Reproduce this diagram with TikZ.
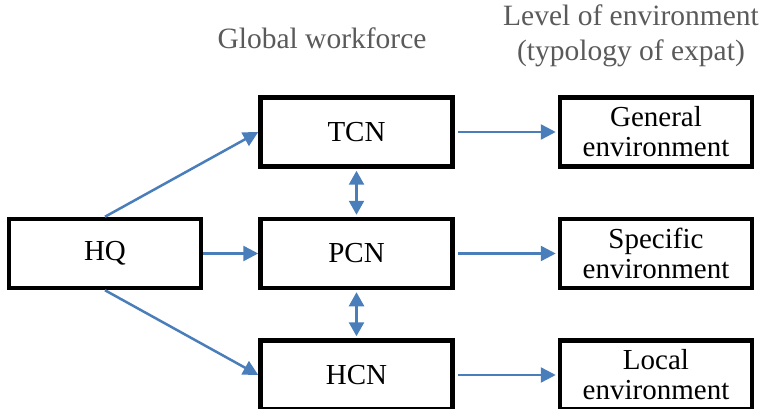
\documentclass[tikz,border=0pt]{standalone}
\usepackage{fontspec}
\setmainfont{Liberation Serif}
\usetikzlibrary{arrows.meta,positioning}
\definecolor{linkblue}{RGB}{74,126,187}
\definecolor{headgray}{RGB}{90,90,90}
\tikzset{
  unit box/.style={
    rectangle, draw=black, line width=4.5pt,
    minimum width=192pt, minimum height=69pt,
    inner sep=0pt, align=center,
    font=\fontsize{29}{30}\selectfont
  },
  head label/.style={
    text=headgray, align=center,
    font=\fontsize{29.5}{35}\selectfont
  },
  flow arrow/.style={-{Triangle[length=15pt,width=15pt]}, line width=2.5pt, linkblue},
  both arrow/.style={{Triangle[length=14pt,width=15pt]}-{Triangle[length=14pt,width=15pt]}, line width=2.5pt, linkblue}
}

\begin{document}
\begin{tikzpicture}[node distance=48pt]
    \useasboundingbox (0pt,0pt) rectangle (766pt,-409pt);
    \node[unit box] (hq) at (105pt,-253.5pt) {HQ};
    \node[unit box, right=55pt of hq] (pcn) {PCN};
    \node[unit box, above=of pcn] (tcn) {TCN};
    \node[unit box, below=of pcn] (hcn) {HCN};
    \node[unit box, right=103pt of tcn] (general) {General\\environment};
    \node[unit box, right=103pt of pcn] (specific) {Specific\\environment};
    \node[unit box, right=103pt of hcn] (local) {Local\\environment};
    \node[head label] (workforce) at (322pt,-38pt) {Global workforce};
    \node[head label] (level) at (631pt,-36pt) {Level of environment\\(typology of expat)};
    \draw[flow arrow] (hq.north) -- (tcn.west);
    \draw[flow arrow] (hq.east) -- (pcn.west);
    \draw[flow arrow] (hq.south) -- (hcn.west);
    \draw[both arrow, shorten <=2pt, shorten >=2pt] (tcn.south) -- (pcn.north);
    \draw[both arrow, shorten <=2pt, shorten >=2pt] (pcn.south) -- (hcn.north);
    \draw[flow arrow, shorten <=3pt, shorten >=2pt] (tcn.east) -- (general.west);
    \draw[flow arrow, shorten <=3pt, shorten >=2pt] (pcn.east) -- (specific.west);
    \draw[flow arrow, shorten <=3pt, shorten >=2pt] (hcn.east) -- (local.west);
  \end{tikzpicture}
\end{document}
